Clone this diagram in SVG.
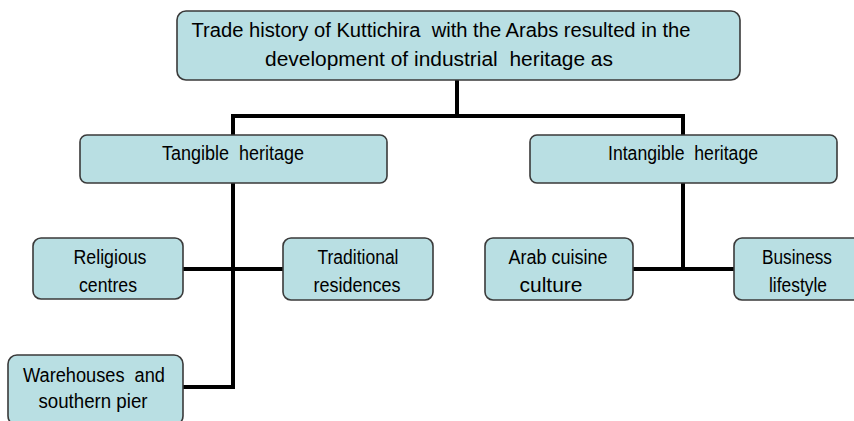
<svg xmlns="http://www.w3.org/2000/svg" width="854" height="421" viewBox="0 0 854 421">
<style>
.box{fill:#b9dfe3;stroke:#3a3a3a;stroke-width:1.6}
.t{font-family:"Liberation Sans",Arial,sans-serif;font-size:19.5px;fill:#000;text-anchor:middle;white-space:pre}
.c{fill:none;stroke:#000;stroke-width:4;stroke-linecap:square}
</style>
<rect width="854" height="421" fill="#fff"/>
<g id="connectors">
<path class="c" d="M457 81V116M233 116H683M233 116V135M683 116V135"/>
<path class="c" d="M233 183V387H184M184 269H283"/>
<path class="c" d="M683 183V269M634 269H733"/>
</g>
<g id="root">
<rect class="box" x="177" y="11" width="563" height="69" rx="9"/>
<text class="t" x="441" y="37" textLength="499" lengthAdjust="spacingAndGlyphs" xml:space="preserve">Trade history of Kuttichira  with the Arabs resulted in the</text>
<text class="t" x="439" y="66" textLength="348" lengthAdjust="spacingAndGlyphs" xml:space="preserve">development of industrial  heritage as</text>
</g>
<g id="tangible">
<rect class="box" x="80" y="135" width="307" height="48" rx="7"/>
<text class="t" x="233" y="160" textLength="142" lengthAdjust="spacingAndGlyphs" xml:space="preserve">Tangible  heritage</text>
</g>
<g id="intangible">
<rect class="box" x="530" y="135" width="307" height="48" rx="7"/>
<text class="t" x="683" y="160" textLength="150" lengthAdjust="spacingAndGlyphs" xml:space="preserve">Intangible  heritage</text>
</g>
<g id="religious">
<rect class="box" x="33" y="238" width="150" height="61" rx="8"/>
<text class="t" x="110" y="264" textLength="73" lengthAdjust="spacingAndGlyphs">Religious</text>
<text class="t" x="108" y="292" textLength="58" lengthAdjust="spacingAndGlyphs">centres</text>
</g>
<g id="traditional">
<rect class="box" x="283" y="238" width="150" height="62" rx="8"/>
<text class="t" x="358" y="264" textLength="81" lengthAdjust="spacingAndGlyphs">Traditional</text>
<text class="t" x="357" y="292" textLength="87" lengthAdjust="spacingAndGlyphs">residences</text>
</g>
<g id="arab">
<rect class="box" x="485" y="238" width="148" height="62" rx="8"/>
<text class="t" x="558" y="264" textLength="99" lengthAdjust="spacingAndGlyphs">Arab cuisine</text>
<text class="t" x="551" y="292" textLength="63" lengthAdjust="spacingAndGlyphs">culture</text>
</g>
<g id="business">
<rect class="box" x="734" y="238" width="130" height="62" rx="8"/>
<text class="t" x="797" y="264" textLength="70" lengthAdjust="spacingAndGlyphs">Business</text>
<text class="t" x="798" y="292" textLength="58" lengthAdjust="spacingAndGlyphs">lifestyle</text>
</g>
<g id="warehouses">
<rect class="box" x="8" y="355" width="175" height="70" rx="9"/>
<text class="t" x="94" y="382" textLength="142" lengthAdjust="spacingAndGlyphs" xml:space="preserve">Warehouses  and</text>
<text class="t" x="93" y="408" textLength="109" lengthAdjust="spacingAndGlyphs">southern pier</text>
</g>
</svg>
